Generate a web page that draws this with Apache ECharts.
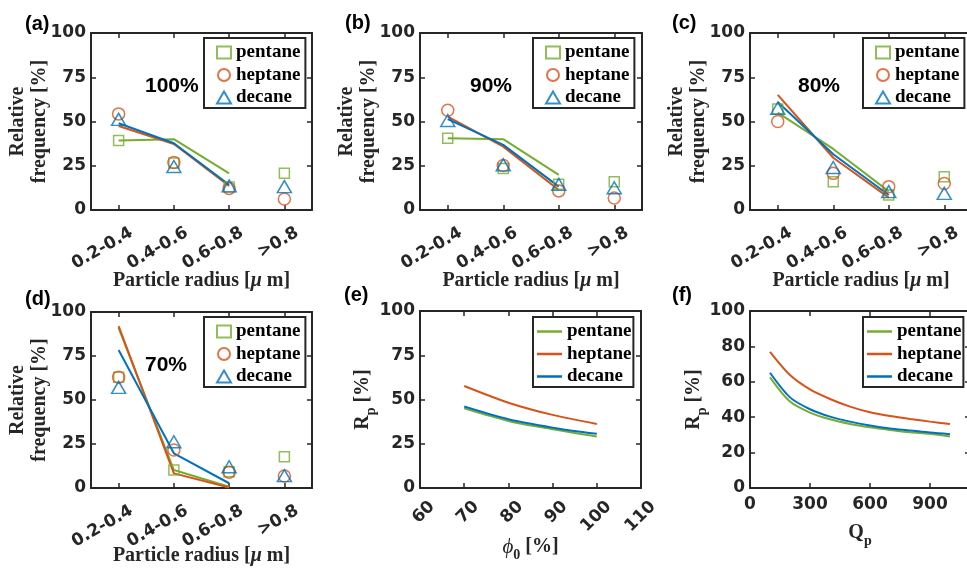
<!DOCTYPE html>
<html>
<head>
<meta charset="utf-8">
<script src="https://cdn.jsdelivr.net/npm/echarts@6/dist/echarts.min.js"></script>
<style>
	html, body { margin: 0; padding: 0; background: #fff; }
	#chart { width: 967px; height: 570px; }
</style>
</head>
<body>
<div id="chart"></div>
<script>
// x categories / x values
const radiusBins = ['0.2-0.4', '0.4-0.6', '0.6-0.8', '>0.8'];
const phi0 = [70, 80, 90, 100];
const qp = [100, 200, 300, 400, 500, 600, 700, 800, 900, 1000];

// (a) 100% : measured points and fitted lines (first three bins)
const aPentane = [39.2, 26.5, 13.0, 20.8];
const aHeptane = [54.3, 26.8, 12.2, 6.2];
const aDecane = [51.2, 24.6, 13.6, 13.2];
const aPentaneFit = [39.2, 40.0, 20.7];
const aHeptaneFit = [47.5, 37.3, 13.6];
const aDecaneFit = [49.0, 37.7, 14.3];

// (b) 90%
const bPentane = [40.6, 23.5, 14.5, 16.0];
const bHeptane = [56.4, 25.1, 10.8, 6.8];
const bDecane = [50.6, 25.5, 14.5, 12.6];
const bPentaneFit = [40.6, 40.0, 19.8];
const bHeptaneFit = [52.8, 35.8, 11.3];
const bDecaneFit = [51.3, 36.8, 13.2];

// (c) 80%
const cPentane = [57.0, 16.0, 8.5, 18.8];
const cHeptane = [50.0, 20.7, 13.2, 15.0];
const cDecane = [57.5, 24.0, 10.4, 9.4];
const cPentaneFit = [55.0, 34.5, 10.5];
const cHeptaneFit = [65.0, 29.5, 7.0];
const cDecaneFit = [61.0, 31.5, 8.5];

// (d) 70%
const dPentane = [62.9, 10.2, 9.3, 17.8];
const dHeptane = [62.9, 21.6, 9.0, 6.8];
const dDecane = [57.2, 26.3, 12.1, 7.0];
const dPentaneFit = [91.0, 10.2, 0.7];
const dHeptaneFit = [92.0, 8.3, 0.3];
const dDecaneFit = [78.4, 19.7, 2.7];

// (e) Rp vs phi0
const ePentane = [45.0, 37.9, 33.2, 29.1];
const eHeptane = [57.6, 48.2, 41.3, 36.2];
const eDecane = [46.0, 38.8, 34.1, 30.6];

// (f) Rp vs Qp
const fPentane = [62.5, 48.8, 42.6, 38.8, 36.2, 34.3, 32.8, 31.5, 30.6, 29.1];
const fHeptane = [76.9, 63.8, 55.7, 50.3, 46.0, 42.8, 40.7, 39.0, 37.5, 36.2];
const fDecane = [65.1, 51.2, 44.5, 40.3, 37.5, 35.3, 33.6, 32.5, 31.3, 30.4];

const panelTags = ['(a)', '(b)', '(c)', '(d)', '(e)', '(f)'];
const fractionTags = ['100%', '90%', '80%', '70%'];
const fluids = ['pentane', 'heptane', 'decane'];

const AXIS = '#262626';
const SERIF = 'Liberation Serif';
const colors = { pentane: '#77AC30', heptane: '#D95319', decane: '#0072BD' };
const markerShape = { pentane: 'rect', heptane: 'circle', decane: 'triangle' };
const markerSize = { pentane: 10, heptane: 12, decane: [14, 12] };

// plot boxes of the six panels
const boxes = [
	{ left: 91, top: 33, width: 221, height: 177 },
	{ left: 420, top: 33, width: 222, height: 177 },
	{ left: 750, top: 33, width: 222, height: 177 },
	{ left: 91, top: 312, width: 221, height: 176 },
	{ left: 420, top: 311, width: 221, height: 177 },
	{ left: 750, top: 311, width: 220, height: 177 }
];

const tickLabel = { fontFamily: 'DejaVu Sans', fontWeight: 'bold', fontSize: 17, color: AXIS };

// t: plain, i: italic, p: phi, s: subscript (sits lower in the line box)
const nameRich = {
	t: { fontFamily: SERIF, fontWeight: 'bold', fontSize: 20, color: AXIS, lineHeight: 20, verticalAlign: 'top' },
	i: { fontFamily: SERIF, fontStyle: 'italic', fontWeight: 'bold', fontSize: 20, color: AXIS, lineHeight: 20, verticalAlign: 'top' },
	p: { fontFamily: SERIF, fontStyle: 'italic', fontSize: 21, color: AXIS, lineHeight: 20, verticalAlign: 'top' },
	s: { fontFamily: SERIF, fontWeight: 'bold', fontSize: 14, color: AXIS, lineHeight: 25, verticalAlign: 'bottom' }
};

const option = {
	animation: false,
	backgroundColor: '#fff',
	grid: boxes.map(b => Object.assign({ show: false, containLabel: false, outerBoundsMode: 'none' }, b)),
	xAxis: [],
	yAxis: [],
	series: [],
	legend: [],
	graphic: []
};

function axisLine() {
	return { show: true, onZero: false, lineStyle: { color: AXIS, width: 2 } };
}

function axisTick() {
	return { show: true, inside: true, length: 5, interval: 0, alignWithLabel: true, lineStyle: { color: AXIS, width: 1.5 } };
}

// bottom axis carries labels, top one only mirrors the ticks (box on)
function addX(g, scale, label, name, nameGap) {
	const common = Object.assign({ gridIndex: g, axisLine: axisLine(), axisTick: axisTick(), splitLine: { show: false } }, scale);
	option.xAxis.push(Object.assign({}, common, {
		position: 'bottom',
		axisLabel: label,
		name: name,
		nameLocation: 'middle',
		nameGap: nameGap,
		nameMoveOverlap: false,
		nameTextStyle: { rich: nameRich }
	}));
	option.xAxis.push(Object.assign({}, common, { position: 'top', axisLabel: { show: false } }));
}

function addY(g, interval, name, nameGap, nameStyle) {
	const common = {
		type: 'value', gridIndex: g, min: 0, max: 100, interval: interval,
		axisLine: axisLine(), axisTick: axisTick(), splitLine: { show: false }
	};
	option.yAxis.push(Object.assign({}, common, {
		position: 'left',
		axisLabel: Object.assign({ margin: 5 }, tickLabel),
		name: name,
		nameLocation: 'middle',
		nameRotate: 90,
		nameGap: nameGap,
		nameMoveOverlap: false,
		nameTextStyle: nameStyle
	}));
	option.yAxis.push(Object.assign({}, common, { position: 'right', axisLabel: { show: false } }));
}

function addLegend(g, left, top, lineIcons) {
	const legend = {
		left: left,
		top: top,
		orient: 'vertical',
		data: fluids.map(f => f + ' ' + g),
		formatter: name => name.split(' ')[0],
		selectedMode: false,
		itemWidth: lineIcons ? 25 : 14,
		itemHeight: lineIcons ? 2.5 : 12,
		itemGap: 1.5,
		padding: lineIcons ? [4, 2, 0, 4] : [4, 5, 0, 12],
		borderColor: AXIS,
		borderWidth: 2,
		borderRadius: 0,
		backgroundColor: '#fff',
		textStyle: { fontFamily: SERIF, fontWeight: 'bold', fontSize: 19, color: '#000', lineHeight: 21 }
	};
	if (lineIcons) legend.icon = 'rect';
	option.legend.push(legend);
}

function addTag(text, x, y, size) {
	option.graphic.push({
		type: 'text', x: x, y: y, z: 100,
		style: { text: text, font: 'bold ' + size + 'px "Liberation Sans"', fill: '#000', verticalAlign: 'middle' }
	});
}

// size distribution panels (a)-(d)
const distPoints = [[aPentane, aHeptane, aDecane], [bPentane, bHeptane, bDecane], [cPentane, cHeptane, cDecane], [dPentane, dHeptane, dDecane]];
const distFits = [[aPentaneFit, aHeptaneFit, aDecaneFit], [bPentaneFit, bHeptaneFit, bDecaneFit], [cPentaneFit, cHeptaneFit, cDecaneFit], [dPentaneFit, dHeptaneFit, dDecaneFit]];
const legendPos = [[204, 38], [533, 38], [863, 38], [204, 317], [533, 317], [863, 317]];
const fractionPos = [[145, 86], [470, 86], [798, 86], [145, 365]];

for (let g = 0; g < 4; g++) {
	addX(g, { type: 'category', data: radiusBins, boundaryGap: true },
		Object.assign({ rotate: 30, margin: 29, padding: [0, -15, 0, 0], interval: 0 }, tickLabel),
		'{t|Particle radius [}{i|μ}{t| m]}', g === 3 ? 58 : 61);
	addY(g, 25, 'Relative\nfrequency [%]', 40,
		{ fontFamily: SERIF, fontWeight: 'bold', fontSize: 20, color: AXIS, lineHeight: 22 });

	fluids.forEach((f, k) => {
		option.series.push({
			type: 'line', name: f + ' fit ' + g, xAxisIndex: 2 * g, yAxisIndex: 2 * g,
			data: distFits[g][k], symbol: 'none', z: 2,
			itemStyle: { color: colors[f] },
			lineStyle: { color: colors[f], width: 2 }
		});
	});
	fluids.forEach((f, k) => {
		option.series.push({
			type: 'scatter', name: f + ' ' + g, xAxisIndex: 2 * g, yAxisIndex: 2 * g,
			data: distPoints[g][k], symbol: markerShape[f], symbolSize: markerSize[f], z: 3,
			itemStyle: { color: 'transparent', borderColor: colors[f], borderWidth: 1.5 }
		});
	});
	addLegend(g, legendPos[g][0], legendPos[g][1], false);
	addTag(fractionTags[g], fractionPos[g][0], fractionPos[g][1], 21);
}

// (e) Rp against phi0
addX(4, { type: 'value', min: 60, max: 110, interval: 10 },
	Object.assign({ rotate: 45, margin: 28, padding: [0, -17, 0, 0] }, tickLabel),
	'{p|ϕ}{s|0}{t| [%]}', 49);
addY(4, 25, '{t|R}{s|p}{t| [%]}', 42, { rich: nameRich });
[ePentane, eHeptane, eDecane].forEach((vals, k) => {
	const f = fluids[k];
	option.series.push({
		type: 'line', name: f + ' 4', xAxisIndex: 8, yAxisIndex: 8,
		data: phi0.map((x, i) => [x, vals[i]]), symbol: 'none', smooth: 0.3,
		itemStyle: { color: colors[f] }, lineStyle: { color: colors[f], width: 2 }
	});
});
addLegend(4, legendPos[4][0], legendPos[4][1], true);

// (f) Rp against Qp
addX(5, { type: 'value', min: 0, max: 1100, interval: 300 },
	Object.assign({ margin: 8, showMaxLabel: false }, tickLabel),
	'{t|Q}{s|p}', 35);
addY(5, 20, '{t|R}{s|p}{t| [%]}', 41, { rich: nameRich });
[fPentane, fHeptane, fDecane].forEach((vals, k) => {
	const f = fluids[k];
	option.series.push({
		type: 'line', name: f + ' 5', xAxisIndex: 10, yAxisIndex: 10,
		data: qp.map((x, i) => [x, vals[i]]), symbol: 'none', smooth: 0.3,
		itemStyle: { color: colors[f] }, lineStyle: { color: colors[f], width: 2 }
	});
});
addLegend(5, legendPos[5][0], legendPos[5][1], true);

// panel letters
const tagPos = [[25, 24], [345, 23], [672, 23], [25, 299], [344, 295], [672, 295]];
panelTags.forEach((t, i) => addTag(t, tagPos[i][0], tagPos[i][1], 20));

const chart = echarts.init(document.getElementById('chart'));
chart.setOption(option);
window.addEventListener('resize', () => chart.resize());
</script>
</body>
</html>
